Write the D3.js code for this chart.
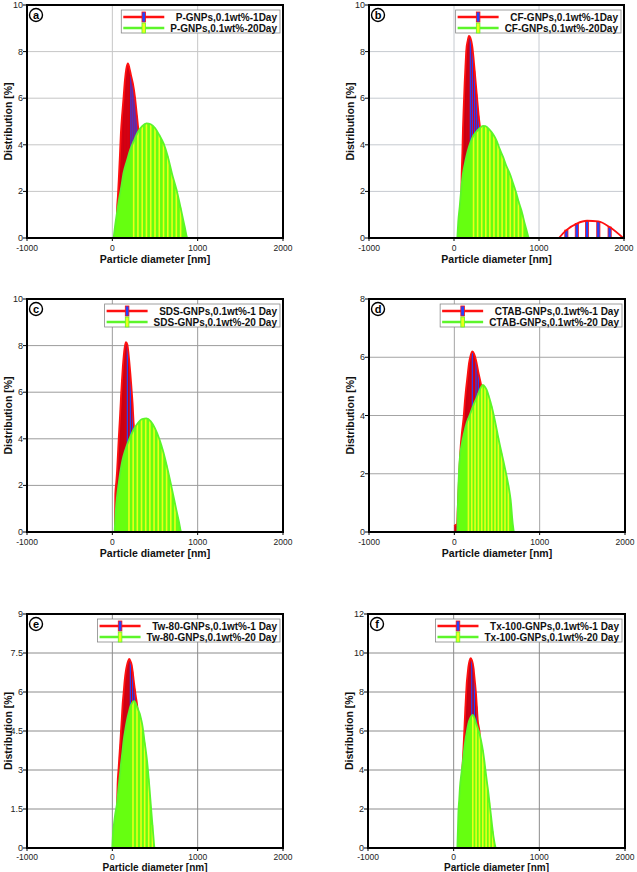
<!DOCTYPE html>
<html><head><meta charset="utf-8">
<script src="https://cdn.jsdelivr.net/npm/d3@7"></script>
<style>body{margin:0;background:#fff} svg{display:block;font-family:"Liberation Sans",Arial,sans-serif}</style>
</head><body><svg id="c" width="637" height="872"></svg>
<script>
// ---------- data ----------
const xTicks = [-1000, 0, 1000, 2000];

// Panel a: P-GNPs
const aYTicks = [0, 2, 4, 6, 8, 10];
const aLegend = ["P-GNPs,0.1wt%-1Day", "P-GNPs,0.1wt%-20Day"];
const aRed = [[50,0],[55,1.2],[65,1.8],[75,2.5],[88,3.5],[100,4.5],[115,5.3],[132,6.06],[148,6.8],[164,7.27],[183,7.49],[200,7.3],[218,7.0],[241,6.63],[265,6.06],[288,5.27],[310,4.5],[335,3.8],[365,3.0],[400,2.2],[440,1.4],[480,0.8],[520,0.3],[560,0]];
const aGreen = [[15,0],[35,0.6],[55,1.1],[80,1.7],[105,2.2],[132,2.8],[170,3.3],[210,3.8],[250,4.15],[300,4.55],[350,4.8],[400,4.92],[450,4.88],[500,4.72],[550,4.42],[600,4.06],[650,3.5],[700,2.75],[750,2.1],[800,1.3],[850,0.45],[880,0]];
const aBlue = [218,241,265,288];
const aYellow = [250,300,350,400,450,500,550,600,650,700,750,800];

// Panel b: CF-GNPs
const bYTicks = [0, 2, 4, 6, 8, 10];
const bLegend = ["CF-GNPs,0.1wt%-1Day", "CF-GNPs,0.1wt%-20Day"];
const bRed = [[85,0],[88,2.3],[98,3.6],[106,4.78],[115,5.7],[125,6.64],[135,7.4],[145,8.07],[160,8.45],[176,8.67],[192,8.6],[216,8.2],[243,7.2],[267,6.2],[290,5.28],[314,4.5],[340,3.6],[370,2.6],[400,1.7],[440,0.9],[480,0.3],[520,0]];
const bRedBump = [[1235,0],[1322,0.34],[1445,0.62],[1565,0.74],[1698,0.71],[1831,0.47],[1990,0]];
const bGreen = [[39,0],[50,0.7],[67,1.34],[85,2.1],[106,2.78],[125,3.15],[145,3.49],[175,3.9],[204,4.2],[230,4.4],[263,4.56],[300,4.7],[341,4.81],[370,4.8],[420,4.64],[460,4.45],[498,4.2],[540,3.8],[576,3.49],[615,3.1],[655,2.78],[695,2.35],[733,1.92],[765,1.5],[792,1.2],[831,0.63],[860,0.25],[882,0]];
const bBlue = [192,216,243,267,290];
const bBumpBlue = [1322,1445,1565,1698,1831];
const bYellow = [230,278,326,374,422,470,518,566,614,662,710,758,806];

// Panel c: SDS-GNPs
const cYTicks = [0, 2, 4, 6, 8, 10];
const cLegend = ["SDS-GNPs,0.1wt%-1 Day", "SDS-GNPs,0.1wt%-20 Day"];
const cRed = [[30,0],[35,1.66],[45,2.1],[55,2.59],[65,3.3],[74,3.95],[84,4.6],[94,5.24],[103,5.9],[113,6.53],[123,7.1],[133,7.54],[146,7.95],[160,8.15],[176,8.05],[190,7.65],[211,6.82],[224,6.2],[236,5.6],[250,4.67],[275,3.8],[300,3.0],[335,2.1],[370,1.3],[410,0.6],[450,0]];
const cGreen = [[27,0],[40,0.9],[55,1.52],[75,2.1],[94,2.59],[120,3.1],[152,3.52],[200,4.0],[250,4.4],[300,4.68],[350,4.85],[400,4.88],[450,4.75],[500,4.45],[550,4.0],[600,3.4],[650,2.65],[700,1.82],[750,0.95],[780,0.45],[808,0]];
const cBlue = [176,211,236];
const cYellow = [195,244,293,342,391,440,489,538,587,636,685,734];

// Panel d: CTAB-GNPs
const dYTicks = [0, 2, 4, 6, 8];
const dLegend = ["CTAB-GNPs,0.1wt%-1 Day", "CTAB-GNPs,0.1wt%-20 Day"];
const dRed = [[0,0.2],[20,0.25],[32,0.25],[39,0.75],[50,1.5],[62,2.3],[74,2.93],[90,3.45],[106,3.85],[125,4.54],[135,4.85],[145,5.11],[158,5.45],[172,5.8],[190,6.05],[211,6.2],[232,6.12],[254,5.9],[281,5.5],[301,5.23],[325,4.9],[360,4.2],[400,3.3],[450,2.2],[500,1.2],[550,0.5],[600,0]];
const dGreen = [[35,0],[45,1.3],[55,2.1],[66,2.6],[86,3.0],[110,3.35],[145,3.75],[185,4.05],[223,4.35],[260,4.6],[301,4.9],[332,5.05],[360,4.98],[379,4.88],[410,4.6],[438,4.31],[470,3.9],[497,3.51],[525,3.1],[555,2.7],[585,2.3],[614,1.9],[640,1.5],[660,1.1],[684,0.3],[700,0]];
const dBlue = [211,254,281];
const dYellow = [165,204,243,282,321,360,399,438,477,516,555,594,633];

// Panel e: Tw-80-GNPs
const eYTicks = [0, 1.5, 3, 4.5, 6, 7.5, 9];
const eLegend = ["Tw-80-GNPs,0.1wt%-1 Day", "Tw-80-GNPs,0.1wt%-20 Day"];
const eRed = [[50,0],[55,1.5],[62,2.49],[72,3.0],[82,3.51],[92,4.0],[102,4.54],[111,5.0],[121,5.56],[133,6.0],[145,6.46],[158,6.8],[172,7.04],[186,7.2],[199,7.27],[211,7.2],[227,7.04],[238,6.8],[250,6.46],[262,6.15],[273,5.88],[289,5.54],[310,4.9],[335,4.0],[360,3.0],[390,2.0],[420,1.1],[450,0.4],[480,0]];
const eGreen = [[0,0],[8,0.56],[20,0.95],[35,1.33],[55,1.72],[74,2.36],[88,2.8],[102,3.26],[118,3.7],[133,4.15],[152,4.55],[172,4.92],[192,5.2],[211,5.44],[227,5.55],[242,5.63],[258,5.65],[273,5.57],[289,5.44],[305,5.3],[320,5.18],[334,5.0],[348,4.79],[362,4.5],[375,4.15],[390,3.8],[406,3.38],[420,2.9],[434,2.36],[450,1.7],[465,1.08],[480,0.5],[492,0.05],[500,0]];
const eBlue = [211,238,262];
const eYellow = [242,289,336,379,426,470];

// Panel f: Tx-100-GNPs
const fYTicks = [0, 2, 4, 6, 8, 10, 12];
const fLegend = ["Tx-100-GNPs,0.1wt%-1 Day", "Tx-100-GNPs,0.1wt%-20 Day"];
const fRed = [[80,0],[85,2.5],[94,3.6],[105,4.34],[113,5.0],[121,5.71],[129,6.5],[137,7.25],[145,7.9],[152,8.44],[162,8.9],[172,9.3],[185,9.6],[199,9.73],[211,9.65],[223,9.47],[233,9.2],[242,8.79],[252,8.35],[262,7.85],[270,7.3],[281,6.56],[301,6.0],[320,5.0],[345,3.8],[370,2.6],[400,1.5],[430,0.6],[460,0]];
const fGreen = [[43,0],[50,1.0],[55,1.78],[65,2.5],[74,3.15],[90,3.8],[105,4.34],[120,4.95],[137,5.54],[155,6.0],[172,6.39],[190,6.62],[205,6.75],[223,6.82],[242,6.68],[262,6.39],[281,6.15],[301,5.88],[320,5.5],[340,5.03],[356,4.55],[371,4.0],[388,3.4],[406,2.8],[420,2.25],[437,1.61],[450,1.1],[465,0.58],[480,0.2],[492,0]];
const fBlue = [211,242,270];
const fYellow = [223,262,301,340,379,418,457];

// ---------- layout ----------
const rowTop = {tickDy: 12.5, titleDy: 24.5, titleSize: 10.5, yLabDy: 3};
const rowBottom = {tickDy: 12, titleDy: 23, titleSize: 10, yLabDy: 2.5};
const panels = [
  {tag:'a', L:27,  R:283, T:5,   B:238, yTicks:aYTicks, legend:aLegend, red:aRed, green:aGreen, blue:aBlue, yellow:aYellow, grid:'#c6c6c6', txt:rowTop},
  {tag:'b', L:369, R:624, T:5,   B:238, yTicks:bYTicks, legend:bLegend, red:bRed, green:bGreen, blue:bBlue, yellow:bYellow, bump:bRedBump, bumpBlue:bBumpBlue, grid:'#c6cad0', txt:rowTop},
  {tag:'c', L:27,  R:283, T:299, B:532, yTicks:cYTicks, legend:cLegend, red:cRed, green:cGreen, blue:cBlue, yellow:cYellow, grid:'#9c9c9c', txt:rowTop},
  {tag:'d', L:369, R:625, T:299, B:532, yTicks:dYTicks, legend:dLegend, red:dRed, green:dGreen, blue:dBlue, yellow:dYellow, grid:'#a4a4a4', txt:rowTop},
  {tag:'e', L:27,  R:283, T:614, B:848, yTicks:eYTicks, legend:eLegend, red:eRed, green:eGreen, blue:eBlue, yellow:eYellow, grid:'#8c8c8c', txt:rowBottom},
  {tag:'f', L:368, R:625, T:614, B:848, yTicks:fYTicks, legend:fLegend, red:fRed, green:fGreen, blue:fBlue, yellow:fYellow, grid:'#8c8c8c', txt:rowBottom}
];

const RED = '#ff1010', RED_FILL = '#e4000e', RED_DARK = '#b0001c';
const GREEN = '#5cf52a', GREEN_FILL = '#66ff10', YELLOW = '#eaff1a', BLUE = '#2244ff';

const svg = d3.select('#c');

function valAt(data, d) {
  for (let i = 0; i < data.length - 1; i++) {
    const [x0, y0] = data[i], [x1, y1] = data[i + 1];
    if (d >= x0 && d <= x1) return y0 + (y1 - y0) * (d - x0) / (x1 - x0);
  }
  return 0;
}

panels.forEach(p => {
  const g = svg.append('g');
  const yMax = p.yTicks[p.yTicks.length - 1];
  const x = d3.scaleLinear().domain([xTicks[0], xTicks[xTicks.length - 1]]).range([p.L, p.R]);
  const y = d3.scaleLinear().domain([0, yMax]).range([p.B, p.T]);
  const xEnd = x.domain()[1];

  // grid
  g.append('g').selectAll('line').data(xTicks.slice(1, -1)).join('line')
    .attr('x1', d => x(d)).attr('x2', d => x(d)).attr('y1', p.T).attr('y2', p.B)
    .attr('stroke', p.grid).attr('stroke-width', 1);
  g.append('g').selectAll('line').data(p.yTicks.slice(1, -1)).join('line')
    .attr('y1', d => y(d)).attr('y2', d => y(d)).attr('x1', p.L).attr('x2', p.R)
    .attr('stroke', p.grid).attr('stroke-width', 1);

  const area = d3.area().x(d => x(d[0])).y0(y(0)).y1(d => y(d[1])).curve(d3.curveMonotoneX);
  const line = d3.line().x(d => x(d[0])).y(d => y(d[1])).curve(d3.curveMonotoneX);

  // ---- 1 Day (red) ----
  g.append('path').datum(p.red).attr('d', area).attr('fill', RED_FILL);
  g.append('g').selectAll('line').data(p.red.filter(d => d[1] > 0)).join('line')
    .attr('x1', d => x(d[0])).attr('x2', d => x(d[0]))
    .attr('y1', y(0)).attr('y2', d => y(d[1]))
    .attr('stroke', RED_DARK).attr('stroke-width', 0.5);
  g.append('g').selectAll('rect').data(p.blue).join('rect')
    .attr('x', d => x(d) - 0.6).attr('width', 1.2)
    .attr('y', d => y(valAt(p.red, d)) + 1).attr('height', d => y(0) - y(valAt(p.red, d)) - 1)
    .attr('fill', BLUE);
  if (p.bump) {
    g.append('g').selectAll('rect').data(p.bumpBlue).join('rect')
      .attr('x', d => x(d) - 1.6).attr('width', 3.2)
      .attr('y', d => y(valAt(p.bump, d))).attr('height', d => y(0) - y(valAt(p.bump, d)))
      .attr('fill', BLUE).attr('stroke', RED).attr('stroke-width', 0.8);
    g.append('path').datum(p.bump).attr('d', line)
      .attr('fill', 'none').attr('stroke', RED).attr('stroke-width', 1.8);
  }
  g.append('path').datum(p.red.concat([[xEnd, 0]])).attr('d', line)
    .attr('fill', 'none').attr('stroke', RED).attr('stroke-width', 1.8);

  // ---- 20 Day (green) ----
  g.append('path').datum(p.green).attr('d', area).attr('fill', GREEN_FILL);
  g.append('g').selectAll('line').data(p.yellow).join('line')
    .attr('x1', d => x(d)).attr('x2', d => x(d))
    .attr('y1', y(0)).attr('y2', d => y(valAt(p.green, d)))
    .attr('stroke', YELLOW).attr('stroke-width', 1.6);
  g.append('path').datum(p.green.concat([[xEnd, 0]])).attr('d', line)
    .attr('fill', 'none').attr('stroke', GREEN).attr('stroke-width', 1.8);

  // frame
  g.append('rect').attr('x', p.L).attr('y', p.T).attr('width', p.R - p.L).attr('height', p.B - p.T)
    .attr('fill', 'none').attr('stroke', '#000').attr('stroke-width', 2);

  // ticks
  g.append('g').selectAll('line').data(p.yTicks).join('line')
    .attr('x1', p.L - 4).attr('x2', p.L).attr('y1', d => y(d)).attr('y2', d => y(d))
    .attr('stroke', '#000').attr('stroke-width', 1);
  g.append('g').selectAll('text').data(p.yTicks).join('text')
    .attr('x', p.L - 4).attr('y', d => y(d) + p.txt.yLabDy).attr('text-anchor', 'end')
    .attr('font-size', 9).attr('fill', '#222').text(d => d);
  g.append('g').selectAll('line').data(xTicks).join('line')
    .attr('x1', d => x(d)).attr('x2', d => x(d)).attr('y1', p.B).attr('y2', p.B + 3)
    .attr('stroke', '#000').attr('stroke-width', 1);
  g.append('g').selectAll('text').data(xTicks).join('text')
    .attr('x', d => x(d)).attr('y', p.B + p.txt.tickDy).attr('text-anchor', 'middle')
    .attr('font-size', 8.5).attr('fill', '#222').text(d => d);

  // axis titles
  g.append('text').attr('x', (p.L + p.R) / 2).attr('y', p.B + p.txt.titleDy).attr('text-anchor', 'middle')
    .attr('font-size', p.txt.titleSize).attr('font-weight', 'bold').attr('fill', '#111').text('Particle diameter [nm]');
  g.append('text').attr('transform', `translate(${p.L - 15},${(p.T + p.B) / 2}) rotate(-90)`)
    .attr('text-anchor', 'middle').attr('font-size', 10.5).attr('font-weight', 'bold').attr('fill', '#111')
    .text('Distribution [%]');

  // panel label
  g.append('circle').attr('cx', p.L + 9).attr('cy', p.T + 10).attr('r', 6.5)
    .attr('fill', '#fff').attr('stroke', '#000').attr('stroke-width', 1.4);
  g.append('text').attr('x', p.L + 9).attr('y', p.T + 14).attr('text-anchor', 'middle')
    .attr('font-size', 11).attr('font-weight', 'bold').text(p.tag);

  // legend
  const lg = g.append('g');
  const boxR = p.R - 3, boxT = p.T + 5;
  const texts = p.legend.map((t, i) => lg.append('text').attr('x', boxR - 3).attr('y', boxT + 7 + i * 11 + 3.5)
    .attr('text-anchor', 'end').attr('font-size', 10).attr('font-weight', 'bold').attr('fill', '#111').text(t));
  const tw = Math.max(...texts.map(t => t.node().getComputedTextLength()));
  const textStart = boxR - 3 - tw;
  const boxL = textStart - 49;
  lg.insert('rect', 'text').attr('x', boxL).attr('y', boxT).attr('width', boxR - boxL).attr('height', 23)
    .attr('fill', '#fff').attr('stroke', '#888').attr('stroke-width', 0.8);
  const cols = [[RED, BLUE, RED], [GREEN, YELLOW, GREEN]];
  cols.forEach((c, i) => {
    const ly = boxT + 7 + i * 11;
    lg.append('line').attr('x1', boxL + 2).attr('x2', textStart - 6).attr('y1', ly).attr('y2', ly)
      .attr('stroke', c[0]).attr('stroke-width', 2.5);
    const mx = (boxL + 2 + textStart - 6) / 2;
    lg.append('rect').attr('x', mx - 1.8).attr('y', ly - 5).attr('width', 3.6).attr('height', 10)
      .attr('fill', c[1]).attr('stroke', c[2]).attr('stroke-width', 0.8);
  });
});
</script></body></html>
